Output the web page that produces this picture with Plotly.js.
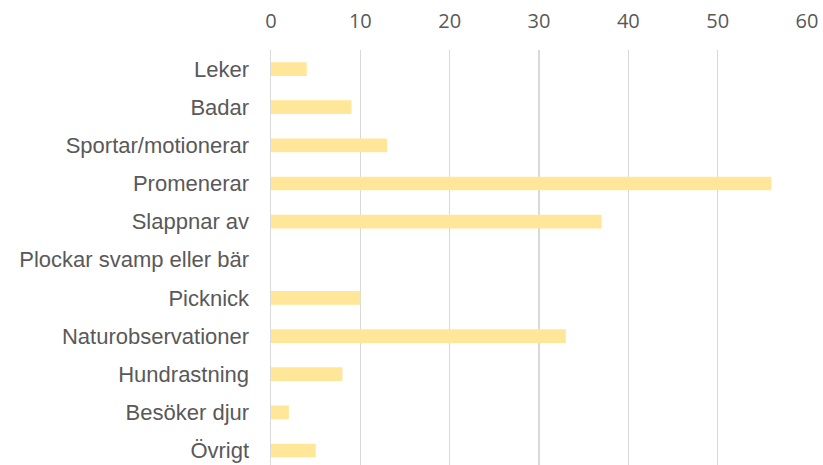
<!DOCTYPE html>
<html>
<head>
<meta charset="utf-8">
<script src="https://cdn.plot.ly/plotly-3.0.1.min.js"></script>
<style>html,body{margin:0;padding:0;background:#fff;}#chart{width:823px;height:465px;}</style>
</head>
<body>
<div id="chart"></div>
<script>
const categories = ["Leker", "Badar", "Sportar/motionerar", "Promenerar", "Slappnar av", "Plockar svamp eller bär", "Picknick", "Naturobservationer", "Hundrastning", "Besöker djur", "Övrigt"];
const values = [4, 9, 13, 56, 37, 0, 10, 33, 8, 2, 5];
const xTicks = [0, 10, 20, 30, 40, 50, 60];

const trace = {
  type: "bar",
  orientation: "h",
  y: categories,
  x: values,
  marker: { color: "#FFE699" },
  hoverinfo: "x+y"
};

const layout = {
  width: 823,
  height: 465,
  margin: { l: 271, r: 16, t: 50, b: 0, pad: 0 },
  paper_bgcolor: "#ffffff",
  plot_bgcolor: "#ffffff",
  bargap: 0.64,
  showlegend: false,
  xaxis: {
    side: "top",
    range: [0, 60],
    tickvals: xTicks,
    ticktext: xTicks.map(String),
    showgrid: true,
    gridcolor: "#D9D9D9",
    gridwidth: 1.3,
    zeroline: false,
    showline: false,
    ticks: "",
    ticklabelstandoff: 17,
    tickfont: { family: "Open Sans, sans-serif", size: 20, color: "#595959" }
  },
  yaxis: {
    type: "category",
    categoryorder: "array",
    categoryarray: categories,
    range: [10.38, -0.5],
    showgrid: false,
    zeroline: false,
    showline: true,
    linecolor: "#D9D9D9",
    linewidth: 1.5,
    ticks: "",
    ticklabelstandoff: 16,
    tickfont: { family: "Liberation Sans, Arial, sans-serif", size: 22, color: "#595959" }
  }
};

Plotly.newPlot("chart", [trace], layout, { displayModeBar: false, staticPlot: true });
</script>
</body>
</html>
